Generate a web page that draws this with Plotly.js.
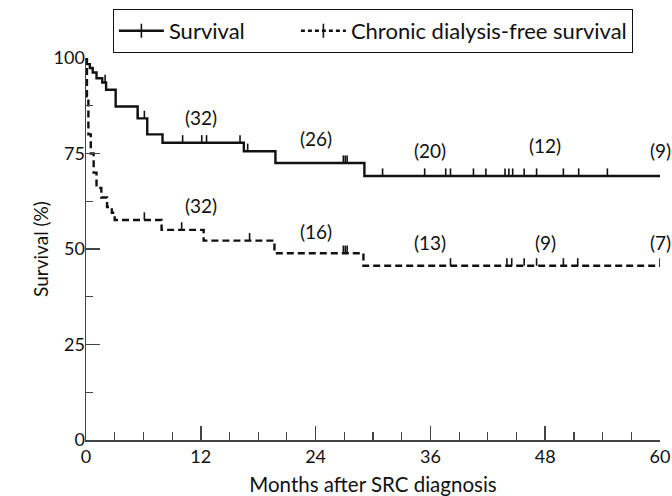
<!DOCTYPE html>
<html><head><meta charset="utf-8">
<script src="https://cdn.plot.ly/plotly-3.0.1.min.js"></script>
<style>html,body{margin:0;padding:0;background:#fff}#chart{width:672px;height:496px}</style>
</head><body><div id="chart"></div>
<script>
// Overall survival (Kaplan-Meier steps)
const survMonths = [0, 0.4, 0.7, 1.1, 1.7, 2.1, 3.1, 5.4, 6.4, 8.0, 16.5, 19.8, 29.1, 60];
const survValues = [98.4, 97.4, 96.2, 94.7, 93.6, 91.7, 87.3, 84.2, 80.0, 77.8, 75.6, 72.5, 69.1, 69.1];
const survCensored = [2.0, 5.4, 6.1, 10.1, 12.1, 12.6, 16.1, 16.9, 26.9, 27.1, 27.3, 31.0, 35.4, 37.6, 38.1, 40.5, 41.8, 43.8, 44.2, 44.6, 45.8, 47.1, 49.9, 51.5, 54.5];

// Chronic dialysis-free survival
const dfsMonths = [0, 0.1, 0.25, 0.5, 0.8, 1.1, 1.6, 2.2, 2.7, 3.0, 7.9, 12.3, 19.7, 29.0, 60];
const dfsValues = [100, 90, 80, 75, 70, 66, 63.5, 61, 59.5, 57.6, 55.0, 52.2, 48.9, 45.6, 45.6];
const dfsCensored = [6.1, 10.0, 17.1, 26.9, 27.1, 27.3, 38.1, 44.0, 44.5, 45.8, 47.1, 49.9, 51.4, 60];

// Numbers at risk
const riskMonths = [12, 24, 36, 48, 60];
const survAtRisk = ['(32)', '(26)', '(20)', '(12)', '(9)'];
const survRiskY = [84.5, 79, 75.8, 77.1, 75.8];
const dfsAtRisk = ['(32)', '(16)', '(13)', '(9)', '(7)'];
const dfsRiskY = [61.3, 54.7, 51.7, 51.7, 51.7];

const seriesNames = ['Survival', 'Chronic dialysis-free survival'];

function stepValue(ts, vs, t) {
  let v = vs[0];
  for (let i = 0; i < ts.length; i++) { if (ts[i] <= t) v = vs[i]; }
  return v;
}

const FONT = 'Lato, "Open Sans", sans-serif';
const solid = {color: '#111', width: 2.4, shape: 'hv'};
const dashed = {color: '#111', width: 2.4, shape: 'hv', dash: '7px,4px'};

function censorTrace(ts, vs, cens) {
  return {
    x: cens, y: cens.map(t => stepValue(ts, vs, t)),
    type: 'scatter', mode: 'markers', showlegend: false, hoverinfo: 'skip',
    marker: {size: 1, color: 'rgba(0,0,0,0)'},
    error_y: {type: 'constant', value: 2.0, valueminus: 0, symmetric: false, width: 0, thickness: 1.6, color: '#111'}
  };
}

const traces = [
  {x: survMonths, y: survValues, type: 'scatter', mode: 'lines', line: solid, showlegend: false},
  {x: dfsMonths, y: dfsValues, type: 'scatter', mode: 'lines', line: dashed, showlegend: false},
  censorTrace(survMonths, survValues, survCensored),
  censorTrace(dfsMonths, dfsValues, dfsCensored),
  {x: [null], y: [null], type: 'scatter', mode: 'lines+markers', name: seriesNames[0], legendwidth: 122,
   line: {color: '#111', width: 2.4}, marker: {symbol: 'line-ns-open', size: 10, line: {color: '#111', width: 1.6}}},
  {x: [null], y: [null], type: 'scatter', mode: 'lines+markers', name: seriesNames[1],
   line: {color: '#111', width: 2.4, dash: '4px,3px'}, marker: {symbol: 'line-ns-open', size: 10, line: {color: '#111', width: 1.6}}}
];

const annotations = [];
riskMonths.forEach((m, i) => {
  annotations.push({x: m, y: survRiskY[i], xref: 'x', yref: 'y', text: survAtRisk[i], showarrow: false, font: {family: FONT, size: 19, color: '#111'}});
  annotations.push({x: m, y: dfsRiskY[i], xref: 'x', yref: 'y', text: dfsAtRisk[i], showarrow: false, font: {family: FONT, size: 19, color: '#111'}});
});

const axisCommon = {
  showgrid: false, zeroline: false, showline: true, linecolor: '#444', linewidth: 1.5,
  ticks: 'inside', ticklen: 14, tickwidth: 1.5, tickcolor: '#444',
  tickfont: {family: FONT, size: 18, color: '#111'}
};

const layout = {
  width: 672, height: 496,
  margin: {l: 86, r: 12, t: 58, b: 56, autoexpand: false},
  paper_bgcolor: '#fff', plot_bgcolor: '#fff',
  font: {family: FONT, color: '#111'},
  xaxis: Object.assign({}, axisCommon, {
    range: [0, 60], tickmode: 'array', tickvals: riskMonths.concat([0]),
    minor: {dtick: 3, ticklen: 8, tickwidth: 1.2, tickcolor: '#444', ticks: 'inside'},
    title: {text: 'Months after SRC diagnosis', font: {family: FONT, size: 20.5, color: '#111'}, standoff: 11}
  }),
  yaxis: Object.assign({}, axisCommon, {
    range: [0, 100], tickvals: [0, 25, 50, 75, 100], ticklabelstandoff: -4,
    minor: {tickvals: [12.5, 37.5, 62.5, 87.5], ticklen: 7, tickwidth: 1.2, tickcolor: '#444', ticks: 'inside'},
    title: {text: 'Survival (%)', font: {family: FONT, size: 19, color: '#111'}, standoff: 0}
  }),
  legend: {
    orientation: 'h', xref: 'container', yref: 'container',
    x: 0.168, xanchor: 'left', y: 0.982, yanchor: 'top',
    bordercolor: '#111', borderwidth: 1, bgcolor: '#fff',
    font: {family: FONT, size: 22, color: '#111'}, itemwidth: 45
  },
  annotations: annotations,
  showlegend: true
};

Plotly.newPlot('chart', traces, layout, {staticPlot: true});
</script></body></html>
